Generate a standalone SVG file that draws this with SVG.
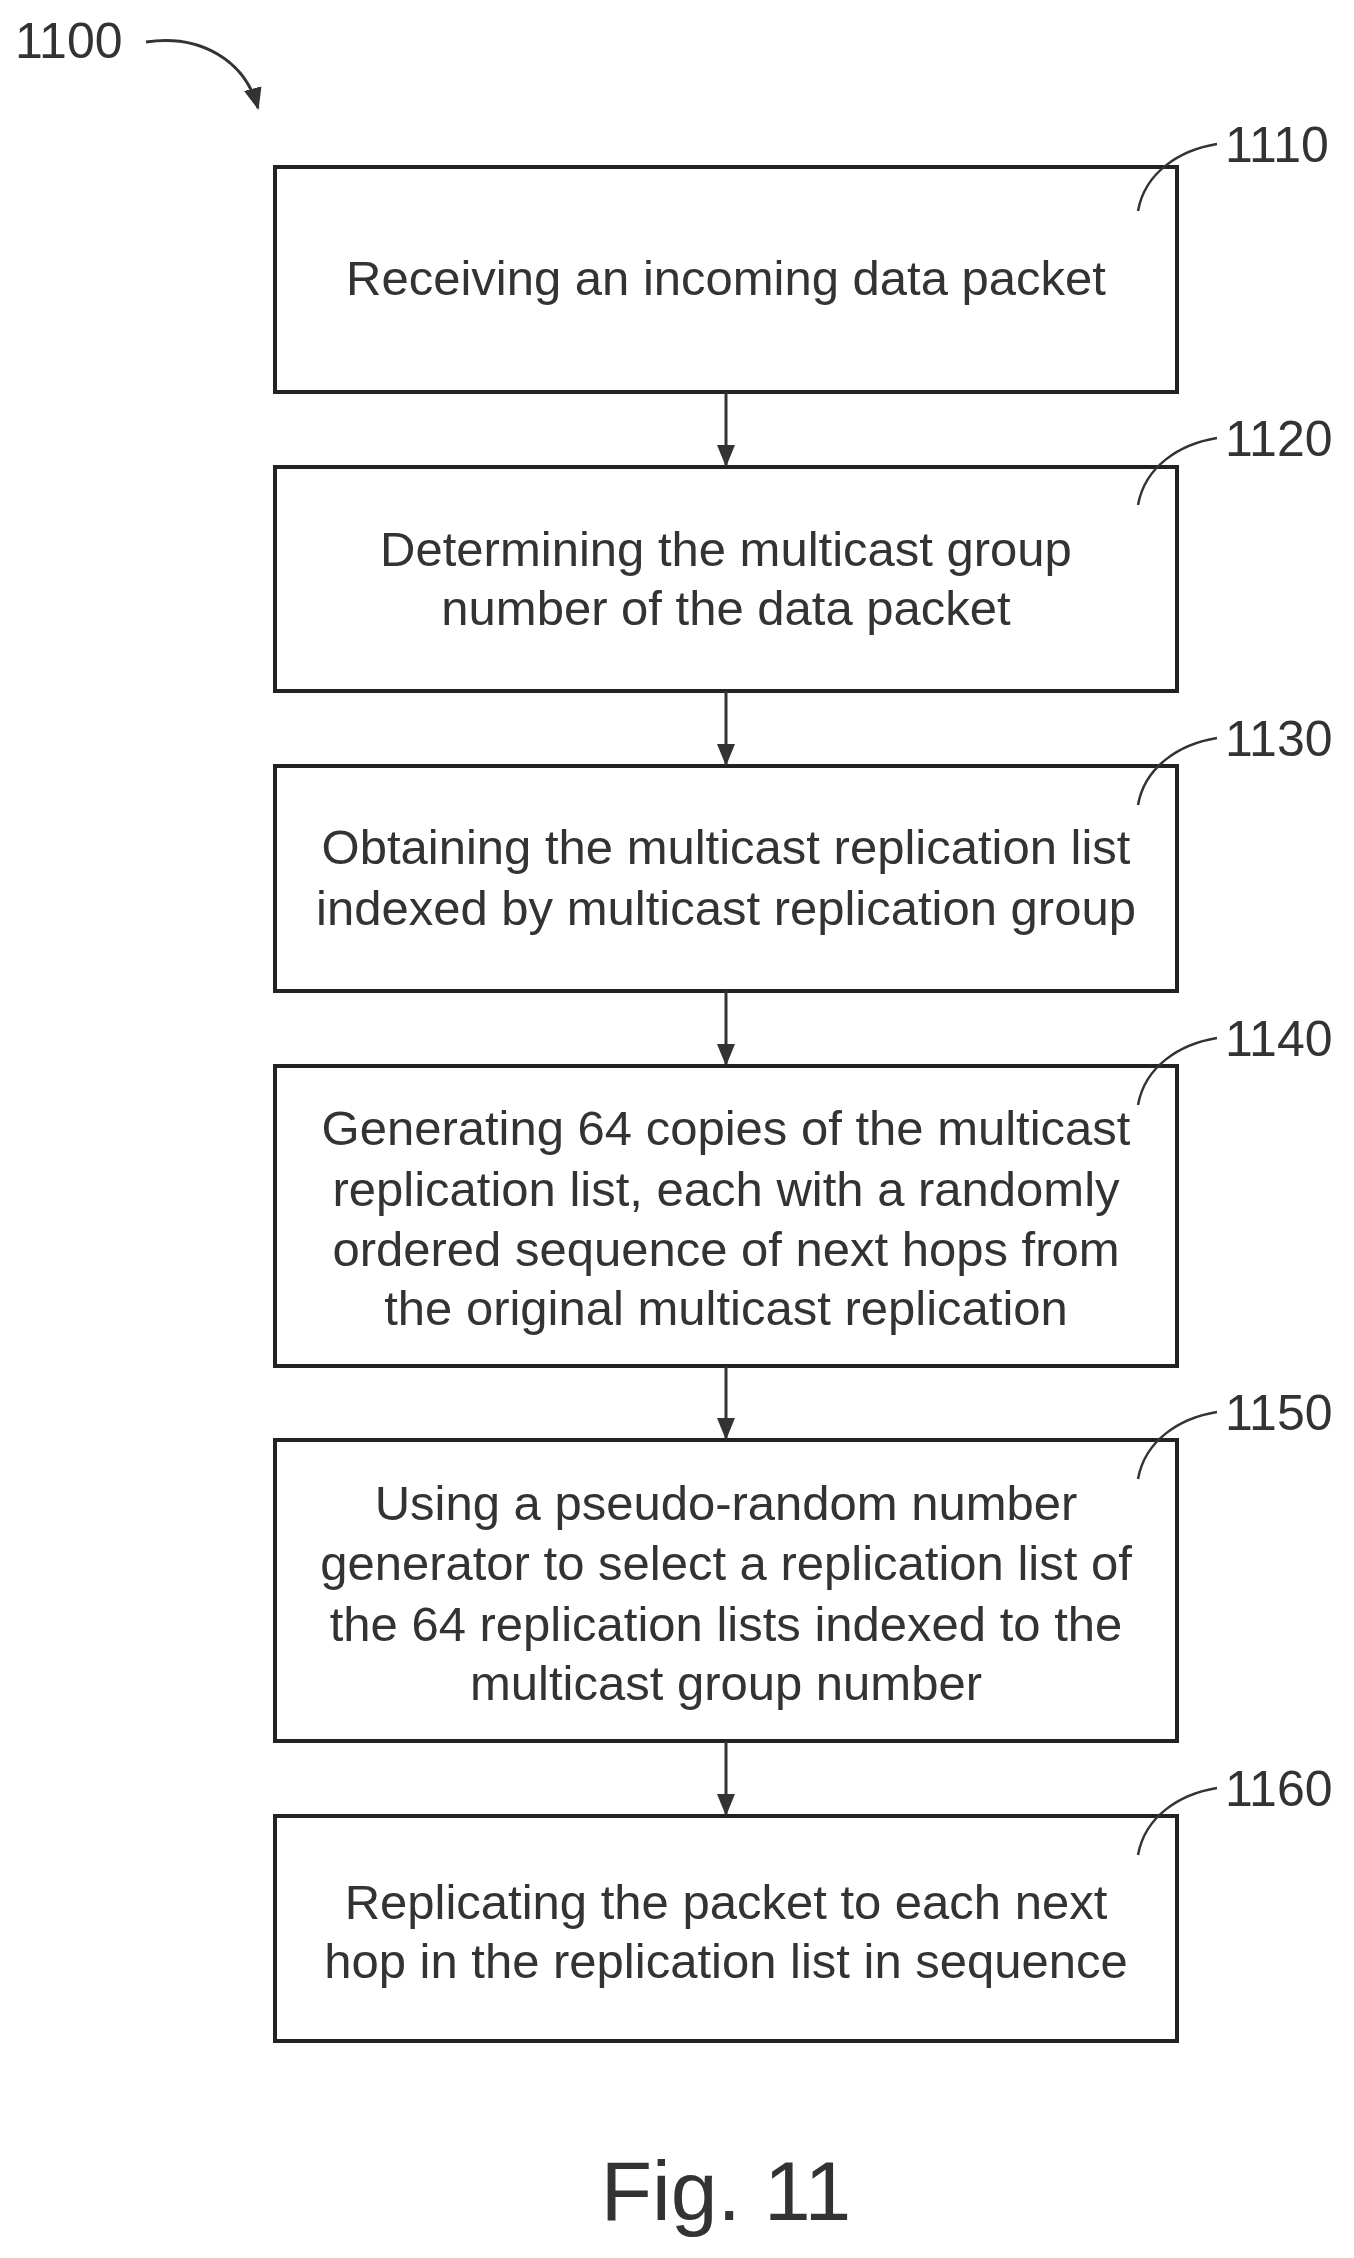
<svg xmlns="http://www.w3.org/2000/svg" width="1354" height="2258" viewBox="0 0 1354 2258">
<style>
.box{fill:#fff;stroke:#222;stroke-width:4}
.t{font-family:"Liberation Sans",Arial,sans-serif;font-size:49px;fill:#333;text-anchor:middle}
.lbl{font-family:"Liberation Sans",Arial,sans-serif;font-size:50px;fill:#333}
.c{fill:none;stroke:#333;stroke-width:3}
.ld{fill:none;stroke:#333;stroke-width:2.5}
</style>
<defs>
<marker id="ah2" markerWidth="22" markerHeight="22" refX="20" refY="11" orient="auto" markerUnits="userSpaceOnUse" viewBox="0 0 22 22"><path d="M0 2L22 11L0 20z" fill="#333"/></marker></defs>
<text class="lbl" x="15" y="58">1100</text>
<path class="c" d="M146 42 C200 34,245 60,258 108" marker-end="url(#ah2)"/>
<g id="n1110"><rect class="box" x="275" y="167" width="902" height="225"/><text class="t" x="726" y="295">Receiving an incoming data packet</text><text class="lbl" x="1225" y="162">1110</text><path class="ld" d="M1217 144 C1180 150,1145 172,1138 211"/></g>
<g id="n1120"><rect class="box" x="275" y="467" width="902" height="224"/><text class="t" x="726" y="566">Determining the multicast group</text><text class="t" x="726" y="625">number of the data packet</text><text class="lbl" x="1225" y="456">1120</text><path class="ld" d="M1217 438 C1180 444,1145 466,1138 505"/></g>
<g id="n1130"><rect class="box" x="275" y="766" width="902" height="225"/><text class="t" x="726" y="864">Obtaining the multicast replication list</text><text class="t" x="726" y="925">indexed by multicast replication group</text><text class="lbl" x="1225" y="756">1130</text><path class="ld" d="M1217 738 C1180 744,1145 766,1138 805"/></g>
<g id="n1140"><rect class="box" x="275" y="1066" width="902" height="300"/><text class="t" x="726" y="1145">Generating 64 copies of the multicast</text><text class="t" x="726" y="1206">replication list, each with a randomly</text><text class="t" x="726" y="1266">ordered sequence of next hops from</text><text class="t" x="726" y="1325">the original multicast replication</text><text class="lbl" x="1225" y="1056">1140</text><path class="ld" d="M1217 1038 C1180 1044,1145 1066,1138 1105"/></g>
<g id="n1150"><rect class="box" x="275" y="1440" width="902" height="301"/><text class="t" x="726" y="1520">Using a pseudo-random number</text><text class="t" x="726" y="1580">generator to select a replication list of</text><text class="t" x="726" y="1641">the 64 replication lists indexed to the</text><text class="t" x="726" y="1700">multicast group number</text><text class="lbl" x="1225" y="1430">1150</text><path class="ld" d="M1217 1412 C1180 1418,1145 1440,1138 1479"/></g>
<g id="n1160"><rect class="box" x="275" y="1816" width="902" height="225"/><text class="t" x="726" y="1919">Replicating the packet to each next</text><text class="t" x="726" y="1978">hop in the replication list in sequence</text><text class="lbl" x="1225" y="1806">1160</text><path class="ld" d="M1217 1788 C1180 1794,1145 1816,1138 1855"/></g>
<g id="connectors">
<line class="c" x1="726" y1="392" x2="726" y2="465" marker-end="url(#ah2)"/>
<line class="c" x1="726" y1="691" x2="726" y2="764" marker-end="url(#ah2)"/>
<line class="c" x1="726" y1="991" x2="726" y2="1064" marker-end="url(#ah2)"/>
<line class="c" x1="726" y1="1366" x2="726" y2="1438" marker-end="url(#ah2)"/>
<line class="c" x1="726" y1="1741" x2="726" y2="1814" marker-end="url(#ah2)"/>
</g>
<text class="t" x="726" y="2220" style="font-size:84px">Fig. 11</text>
</svg>
